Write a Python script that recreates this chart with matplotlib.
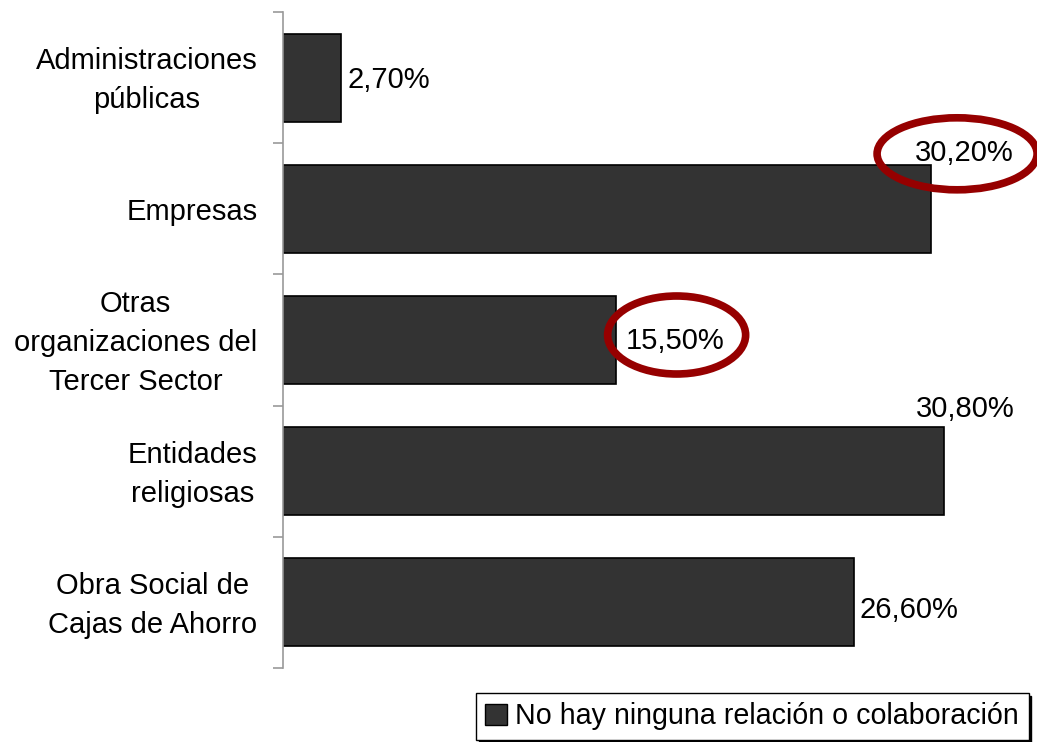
import numpy as np
import matplotlib
matplotlib.use("Agg")
import matplotlib.pyplot as plt
from matplotlib.patches import Patch, Ellipse
from matplotlib.transforms import Affine2D, ScaledTranslation

plt.rcParams['font.family'] = ['Liberation Sans', 'DejaVu Sans']

categorias = ["Administraciones\npúblicas", "Empresas",
              "Otras\norganizaciones del\nTercer Sector",
              "Entidades\nreligiosas", "Obra Social de\nCajas de Ahorro"]
valores = [2.70, 30.20, 15.50, 30.80, 26.60]
etiquetas = ["2,70%", "30,20%", "15,50%", "30,80%", "26,60%"]
serie = "No hay ninguna relación o colaboración"
marcadas = [1, 2]  # etiquetas rodeadas con elipse

# desplazamiento (px, y hacia arriba) de cada etiqueta respecto al final de la barra
desp = [(7, -2), (-16, 56), (10, -1), (-28, 62), (6, -8)]
# centro de la elipse respecto al final de la barra (px) y tamaño
elipses = {1: ((26, 55), 160, 72), 2: ((61, 5), 138, 78)}

fs = 21
fig = plt.figure(figsize=(10.37, 7.42), dpi=100)
ax = fig.add_axes([283 / 1037, 1 - 668 / 742, 1 - 283 / 1037, (668 - 12) / 742])

y = np.arange(len(valores))
ax.barh(y, valores, height=0.67, color='#333333', edgecolor='black', linewidth=1.2)
ax.set_ylim(len(valores) - 0.5, -0.5)
ax.set_xlim(0, 754 / 21.46)

for s in ['top', 'right', 'bottom']:
    ax.spines[s].set_visible(False)
ax.spines['left'].set_color('#999999')
ax.spines['left'].set_linewidth(1.2)
ax.set_xticks([])
ax.set_yticks(y)
ax.set_yticklabels(categorias, fontsize=fs, ha='right', multialignment='center',
                   linespacing=1.5, va='center')
ax.tick_params(axis='y', which='major', length=0, pad=18.5)
ax.set_yticks(np.arange(-0.5, len(valores)), minor=True)
ax.tick_params(axis='y', which='minor', length=7.5, color='#999999', width=1.2)
# bajar un poco las etiquetas de categoría
baja = ScaledTranslation(0, -3 / 100, fig.dpi_scale_trans)
for lbl in ax.get_yticklabels():
    lbl.set_transform(lbl.get_transform() + baja)

for i, (v, t) in enumerate(zip(valores, etiquetas)):
    dx, dy = desp[i]
    ax.annotate(t, (v, i), xytext=(dx, dy), textcoords='offset pixels',
                ha='left', va='center', fontsize=fs, color='black')

for i in marcadas:
    (cx, cy), w, h = elipses[i]
    tr = Affine2D().translate(cx, cy) + ScaledTranslation(valores[i], i, ax.transData)
    e = Ellipse((0, 0), w, h, fill=False, edgecolor='#960000', linewidth=5.5,
                transform=tr, clip_on=False)
    ax.add_artist(e)

leg = fig.legend([Patch(facecolor='#333333', edgecolor='black')], [serie],
                 loc='upper left', bbox_to_anchor=(476 / 1037, 1 - 693 / 742),
                 fontsize=20.6, frameon=True, fancybox=False, handlelength=0.75,
                 handleheight=0.75, handletextpad=0.3, borderpad=0.33,
                 borderaxespad=0, shadow={'color': 'black', 'alpha': 1})
leg.get_frame().set_edgecolor('black')
leg.get_frame().set_linewidth(1)

fig.savefig("out.png", dpi=100)
